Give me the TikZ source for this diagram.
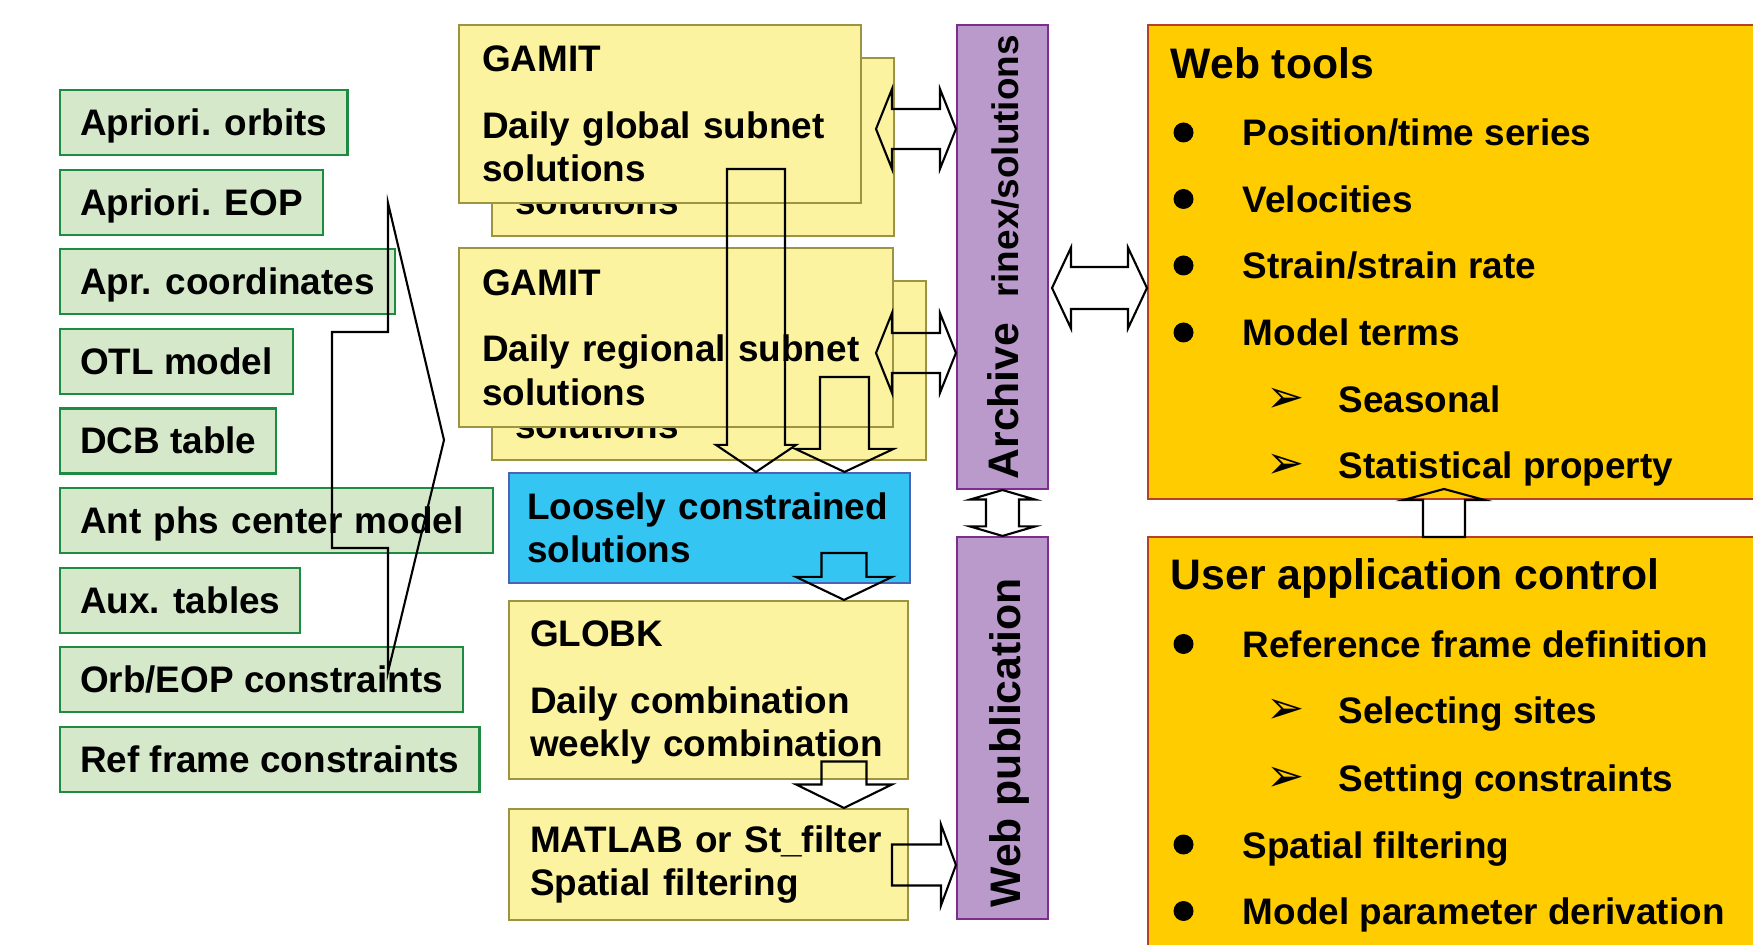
\documentclass[tikz,border=0pt]{standalone}
\usepackage{fontspec}
\setmainfont{Liberation Sans}
\newfontfamily\dingfont{DejaVu Sans}
\usepackage{tikz}
\usetikzlibrary{positioning,calc}
\definecolor{grnf}{RGB}{213,232,202}
\definecolor{grnd}{RGB}{30,139,67}
\definecolor{ylwf}{RGB}{251,243,160}
\definecolor{ylwd}{RGB}{156,148,64}
\definecolor{blf}{RGB}{53,197,242}
\definecolor{bld}{RGB}{74,99,180}
\definecolor{prpf}{RGB}{185,154,203}
\definecolor{prpd}{RGB}{126,44,142}
\definecolor{orgf}{RGB}{255,204,0}
\definecolor{orgd}{RGB}{181,64,44}
\newcommand{\fnt}{\fontsize{10.5}{12.4}\selectfont\bfseries\hyphenpenalty=10000}
\newcommand{\fbig}{\fontsize{12.15}{14}\selectfont\bfseries}
% outline block arrow: tail, tip, half shaft, half head, head length
\newcommand{\blkarrow}[5]{
	\path ($(#2)!#5!(#1)$) coordinate (hb);
	\draw[barr] ($(#1)!#3!90:(#2)$) -- ($(hb)!#3!90:(#2)$) -- ($(hb)!#4!90:(#2)$) -- (#2)
		-- ($(hb)!#4!-90:(#2)$) -- ($(hb)!#3!-90:(#2)$) -- ($(#1)!#3!-90:(#2)$) -- cycle;
}
% outline double block arrow: end, end, half shaft, half head, head length
\newcommand{\dblarrow}[5]{
	\path ($(#1)!#5!(#2)$) coordinate (hb1) ($(#2)!#5!(#1)$) coordinate (hb2);
	\draw[barr] (#1) -- ($(hb1)!#4!90:(#2)$) -- ($(hb1)!#3!90:(#2)$) -- ($(hb2)!#3!-90:(#1)$) -- ($(hb2)!#4!-90:(#1)$) -- (#2)
		-- ($(hb2)!#4!90:(#1)$) -- ($(hb2)!#3!90:(#1)$) -- ($(hb1)!#3!-90:(#2)$) -- ($(hb1)!#4!-90:(#2)$) -- cycle;
}
\tikzset{
	every node/.style = { font=\fnt, inner sep=0pt },
	inp/.style = { rectangle, draw=grnd, fill=grnf, line width=0.6pt, anchor=north west, minimum height=6.5mm, inner xsep=2.0mm, text height=2.6mm, text depth=0mm },
	prog/.style = { rectangle, draw=ylwd, fill=ylwf, line width=0.6pt, align=left, inner xsep=2.3mm },
	lbox/.style = { prog, draw=bld, fill=blf, inner xsep=1.8mm },
	arcbar/.style = { rectangle, draw=prpd, fill=prpf, line width=0.6pt, minimum width=9.1mm },
	tbox/.style = { rectangle, draw=orgd, fill=orgf, line width=0.6pt, minimum width=61.2mm },
	ttl/.style = { font=\fbig, anchor=base west },
	itm/.style = { anchor=base west },
	bul/.style = { circle, fill=black, minimum size=2mm },
	chev/.style = { font=\fontsize{13}{14}\selectfont\dingfont, anchor=base west },
	barr/.style = { draw=black, line width=0.6pt, line join=miter },
}
\begin{document}
\begin{tikzpicture}[node distance=1.25mm]
\useasboundingbox (0,0) rectangle (17.53,-9.45);

% input data
\node (orb) [inp] at (0.59,-0.89) {Apriori. orbits};
\node (eop) [below=of orb.south west, inp] {Apriori. EOP};
\node (crd) [below=of eop.south west, inp] {Apr. coordinates};
\node (otl) [below=of crd.south west, inp] {OTL model};
\node (dcb) [below=of otl.south west, inp] {DCB table};
\node (ant) [below=of dcb.south west, inp, text width=39.3mm, align=left] {Ant phs center model};
\node (aux) [below=of ant.south west, inp] {Aux. tables};
\node (oec) [below=of aux.south west, inp] {Orb/EOP constraints};
\node (rfc) [below=of oec.south west, inp] {Ref frame constraints};
\draw[barr] (3.88,-2.03) -- (4.44,-4.40) -- (3.88,-6.72) -- (3.88,-5.48) -- (3.32,-5.48) -- (3.32,-3.32) -- (3.88,-3.32) -- cycle;

% processing chain
\node (gam1b) [prog, text width=35.6mm, minimum height=17.8mm] at (6.93,-1.47) {GAMIT\\[2.3mm]Daily global subnet\\solutions};
\node (gam1)  [prog, text width=35.6mm, minimum height=17.8mm] at (6.60,-1.14) {GAMIT\\[2.3mm]Daily global subnet\\solutions};
\node (gam2b) [prog, text width=38.8mm, minimum height=17.9mm] at (7.09,-3.705) {GAMIT\\[2.3mm]Daily regional subnet\\solutions};
\node (gam2)  [prog, text width=38.8mm, minimum height=17.9mm] at (6.76,-3.375) {GAMIT\\[2.3mm]Daily regional subnet\\solutions};
\node (lc)    [lbox, text width=36.5mm, minimum height=11mm]   at (7.095,-5.28) {Loosely constrained\\solutions};
\node (globk) [prog, inner xsep=2.1mm, text width=35.7mm, minimum height=17.8mm] at (7.085,-6.90) {\rule{0pt}{3.1mm}GLOBK\\[2.3mm]Daily combination\\weekly combination};
\node (mat)   [prog, inner xsep=2.1mm, text width=35.7mm, minimum height=11.1mm] at (7.085,-8.645) {MATLAB or St\_filter\\Spatial filtering};

% archive and publication
\node (arch) [arcbar, minimum height=46.4mm] at (10.025,-2.57) {};
\node (wpub) [arcbar, minimum height=38.2mm] at (10.025,-7.28) {};
\node (archl) [rotate=90, anchor=base west] at (10.18,-4.80) {{\fbig Archive}\hspace{2.5mm}rinex/solutions};
\node (wpubl) [rotate=90, anchor=base west, font=\fbig] at (10.20,-9.08) {Web publication};

% web tools
\node (wt)  [tbox, minimum height=47.4mm] at (14.54,-2.62) {};
\node (uac) [tbox, minimum height=41.5mm] at (14.54,-7.445) {};

\node (wtt) [ttl] at (11.70,-0.785) {Web tools};
\node (pos) [itm] at (12.42,-1.46)  {Position/time series};
\node (vel) [itm] at (12.42,-2.125) {Velocities};
\node (str) [itm] at (12.42,-2.79)  {Strain/strain rate};
\node (mod) [itm] at (12.42,-3.46)  {Model terms};
\node (sea) [itm] at (13.38,-4.125) {Seasonal};
\node (sta) [itm] at (13.38,-4.79)  {Statistical property};
\node (bpos) [bul] at ($(pos.base west)+(-0.585,0.135)$) {};
\node (bvel) [bul] at ($(vel.base west)+(-0.585,0.135)$) {};
\node (bstr) [bul] at ($(str.base west)+(-0.585,0.135)$) {};
\node (bmod) [bul] at ($(mod.base west)+(-0.585,0.135)$) {};
\node (csea) [chev] at ($(sea.base west)+(-0.72,0)$) {➢};
\node (csta) [chev] at ($(sta.base west)+(-0.72,0)$) {➢};

\node (uact) [ttl] at (11.70,-5.895) {User application control};
\node (ref) [itm] at (12.42,-6.575) {Reference frame definition};
\node (sel) [itm] at (13.38,-7.235) {Selecting sites};
\node (set) [itm] at (13.38,-7.91)  {Setting constraints};
\node (spf) [itm] at (12.42,-8.58)  {Spatial filtering};
\node (mpd) [itm] at (12.42,-9.245) {Model parameter derivation};
\node (bref) [bul] at ($(ref.base west)+(-0.585,0.135)$) {};
\node (csel) [chev] at ($(sel.base west)+(-0.72,0)$) {➢};
\node (cset) [chev] at ($(set.base west)+(-0.72,0)$) {➢};
\node (bspf) [bul] at ($(spf.base west)+(-0.585,0.135)$) {};
\node (bmpd) [bul] at ($(mpd.base west)+(-0.585,0.135)$) {};

% block arrows
\coordinate (a1) at (7.56,-1.69);
\coordinate (a1e) at (a1|-lc.north);
\blkarrow{a1}{a1e}{0.29cm}{0.40cm}{0.27cm}
\coordinate (a2) at (8.445,-3.77);
\coordinate (a2e) at (a2|-lc.north);
\blkarrow{a2}{a2e}{0.245cm}{0.49cm}{0.23cm}
\coordinate (a3) at (8.44,-5.53);
\coordinate (a3e) at (a3|-globk.north);
\blkarrow{a3}{a3e}{0.225cm}{0.48cm}{0.23cm}
\coordinate (a4) at (8.44,-7.615);
\coordinate (a4e) at (a4|-mat.north);
\blkarrow{a4}{a4e}{0.225cm}{0.48cm}{0.235cm}
\coordinate (a5) at (8.92,-8.65);
\coordinate (a5e) at (a5-|wpub.west);
\blkarrow{a5}{a5e}{0.205cm}{0.405cm}{0.15cm}
\coordinate (d1) at (8.76,-1.29);
\coordinate (d1e) at (d1-|arch.west);
\dblarrow{d1}{d1e}{0.20cm}{0.40cm}{0.16cm}
\coordinate (d2) at (8.76,-3.53);
\coordinate (d2e) at (d2-|arch.west);
\dblarrow{d2}{d2e}{0.20cm}{0.40cm}{0.16cm}
\coordinate (d3) at (10.52,-2.88);
\coordinate (d3e) at (d3-|wt.west);
\dblarrow{d3}{d3e}{0.21cm}{0.405cm}{0.19cm}
\dblarrow{arch.south}{wpub.north}{0.165cm}{0.325cm}{0.095cm}
\coordinate (u1) at (14.44,-5.37);
\coordinate (u1e) at (14.44,-4.89);
\blkarrow{u1}{u1e}{0.21cm}{0.405cm}{0.11cm}

\end{tikzpicture}
\end{document}
